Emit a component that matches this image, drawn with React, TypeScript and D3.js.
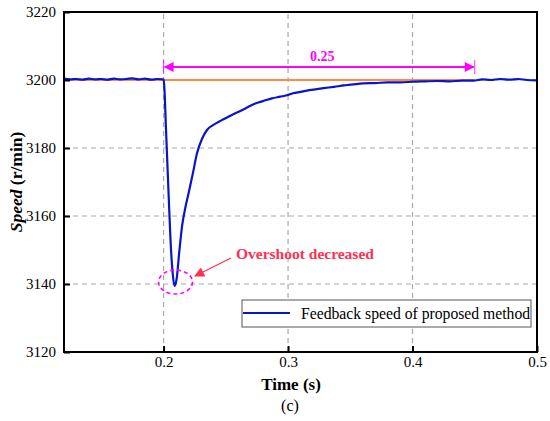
import * as d3 from 'd3'
import { useEffect, useRef } from 'react'

// Feedback speed of proposed method (time in s, speed in r/min)
const timeS = [
  0.12, 0.125, 0.13, 0.135, 0.14, 0.145, 0.15, 0.155, 0.16, 0.165, 0.17, 0.175, 0.18, 0.185, 0.19, 0.195, 0.2,
  0.2005, 0.202, 0.204, 0.206, 0.2075, 0.2088, 0.2105, 0.2125, 0.2148, 0.2175, 0.2201, 0.2235, 0.2268, 0.231,
  0.2349, 0.24, 0.2469, 0.252, 0.2576, 0.265, 0.2737, 0.28, 0.287, 0.2937, 0.299, 0.304, 0.31, 0.317, 0.3285,
  0.337, 0.345, 0.3606, 0.37, 0.38, 0.39, 0.4008, 0.41, 0.42, 0.43, 0.44, 0.449, 0.456, 0.463, 0.47, 0.478,
  0.485, 0.492, 0.5,
]
const speed = [
  3200.4, 3200.2, 3200.3, 3200.1, 3200.4, 3200.2, 3200.3, 3200.1, 3200.4, 3200.2, 3200.3, 3200.5, 3200.2, 3200.4, 3200.1, 3200.3, 3200.2,
  3198.5, 3185, 3166.7, 3150, 3142.5, 3139.4, 3141.5, 3149, 3156.9, 3162.5, 3166.7, 3172.5, 3178.4, 3182.8,
  3185.3, 3186.8, 3188.2, 3189.2, 3190.2, 3191.5, 3193.1, 3193.8, 3194.6, 3195.1, 3195.5, 3196.1, 3196.5, 3197.0, 3197.6,
  3198.0, 3198.4, 3199.0, 3199.1, 3199.3, 3199.3, 3199.5, 3199.6, 3199.7, 3199.6, 3199.8, 3199.8, 3200.2, 3200.0, 3200.3, 3200.1,
  3200.3, 3200.0, 3199.9,
]
const referenceSpeed = 3200
const referenceEnd = 0.45
const xTicks = [0.2, 0.3, 0.4, 0.5]
const yTicks = [3120, 3140, 3160, 3180, 3200, 3220]
const xGrid = [0.2, 0.3, 0.4]
const yGrid = [3140, 3160, 3180, 3200]
const settleStart = 0.2
const settleEnd = 0.45
const settleLabel = '0.25'
const overshootTime = 0.2088
const overshootSpeed = 3139.4

export default function App() {
  const svgRef = useRef<SVGSVGElement>(null)

  useEffect(() => {
    if (!svgRef.current) return
    const svg = d3.select(svgRef.current)
    svg.selectAll('*').remove()

    const width = 550
    const height = 421
    const margin = { top: 12, right: 13, bottom: 69, left: 64 }
    const font = '"Liberation Serif", "Times New Roman", serif'

    svg.attr('width', width).attr('height', height).style('font-family', font)

    const x = d3.scaleLinear().domain([0.12, 0.5]).range([margin.left, width - margin.right])
    const y = d3.scaleLinear().domain([3120, 3220]).range([height - margin.bottom, margin.top])

    const defs = svg.append('defs')
    const marker = (id: string, color: string, orient: string) =>
      defs
        .append('marker')
        .attr('id', id)
        .attr('viewBox', '0 0 10 10')
        .attr('refX', 9)
        .attr('refY', 5)
        .attr('markerWidth', 14)
        .attr('markerHeight', 10)
        .attr('markerUnits', 'userSpaceOnUse')
        .attr('orient', orient)
        .append('path')
        .attr('d', 'M0,0 L10,5 L0,10 Z')
        .attr('fill', color)
    marker('magArrowEnd', '#ff00ff', 'auto')
    marker('magArrowStart', '#ff00ff', 'auto-start-reverse')
    marker('redArrow', '#ff3050', 'auto')

    // Grid
    svg
      .append('g')
      .selectAll('line')
      .data(xGrid)
      .join('line')
      .attr('x1', d => x(d))
      .attr('x2', d => x(d))
      .attr('y1', y(3120))
      .attr('y2', y(3220))
      .attr('stroke', '#aaa')
      .attr('stroke-width', 1.2)
      .attr('stroke-dasharray', '5,4')
    svg
      .append('g')
      .selectAll('line')
      .data(yGrid)
      .join('line')
      .attr('x1', x(0.12))
      .attr('x2', x(0.5))
      .attr('y1', d => y(d))
      .attr('y2', d => y(d))
      .attr('stroke', '#aaa')
      .attr('stroke-width', 1.2)
      .attr('stroke-dasharray', '5,4')

    // Reference speed
    svg
      .append('line')
      .attr('x1', x(0.12))
      .attr('x2', x(referenceEnd))
      .attr('y1', y(referenceSpeed))
      .attr('y2', y(referenceSpeed))
      .attr('stroke', '#ff8c3c')
      .attr('stroke-width', 2)

    // Feedback speed
    const data = timeS.map((t, i) => ({ t, v: speed[i] }))
    const line = d3
      .line<{ t: number; v: number }>()
      .x(d => x(d.t))
      .y(d => y(d.v))
      .curve(d3.curveMonotoneX)
    svg
      .append('path')
      .datum(data)
      .attr('d', line)
      .attr('fill', 'none')
      .attr('stroke', '#0a14c8')
      .attr('stroke-width', 2.2)

    // Settling time arrow
    const arrowY = 67
    svg
      .append('line')
      .attr('x1', x(settleStart) + 1)
      .attr('x2', x(settleEnd) - 1)
      .attr('y1', arrowY)
      .attr('y2', arrowY)
      .attr('stroke', '#ff00ff')
      .attr('stroke-width', 2)
      .attr('marker-start', 'url(#magArrowStart)')
      .attr('marker-end', 'url(#magArrowEnd)')
    ;[settleStart, settleEnd].forEach(t => {
      svg
        .append('line')
        .attr('x1', x(t))
        .attr('x2', x(t))
        .attr('y1', arrowY - 7)
        .attr('y2', arrowY + 7)
        .attr('stroke', '#ff00ff')
        .attr('stroke-width', 0.8)
    })
    svg
      .append('text')
      .attr('x', x((settleStart + settleEnd) / 2) + 3)
      .attr('y', arrowY - 6)
      .attr('text-anchor', 'middle')
      .style('font-family', font)
      .style('font-weight', 'bold')
      .style('font-size', '14px')
      .attr('fill', '#ff00ff')
      .text(settleLabel)

    // Overshoot annotation
    svg
      .append('ellipse')
      .attr('cx', x(overshootTime) + 1)
      .attr('cy', y(overshootSpeed) - 4)
      .attr('rx', 17)
      .attr('ry', 12)
      .attr('fill', 'none')
      .attr('stroke', '#ff00ff')
      .attr('stroke-width', 1.6)
      .attr('stroke-dasharray', '4,3')
    svg
      .append('line')
      .attr('x1', 231)
      .attr('y1', 258)
      .attr('x2', 195)
      .attr('y2', 276)
      .attr('stroke', '#ff3050')
      .attr('stroke-width', 1.2)
      .attr('marker-end', 'url(#redArrow)')
    svg
      .append('text')
      .attr('x', 236)
      .attr('y', 259)
      .style('font-family', font)
      .style('font-weight', 'bold')
      .style('font-size', '15.5px')
      .attr('fill', '#ff3050')
      .text('Overshoot decreased')

    // Frame
    svg
      .append('rect')
      .attr('x', x(0.12))
      .attr('y', y(3220))
      .attr('width', x(0.5) - x(0.12))
      .attr('height', y(3120) - y(3220))
      .attr('fill', 'none')
      .attr('stroke', '#000')
      .attr('stroke-width', 2)

    // Axes
    const xAxis = svg
      .append('g')
      .attr('transform', `translate(0,${y(3120)})`)
      .call(
        d3
          .axisBottom(x)
          .tickValues(xTicks)
          .tickSizeInner(-6)
          .tickSizeOuter(0)
          .tickPadding(4)
          .tickFormat(d3.format('.1f'))
      )
    xAxis.attr('font-family', null).attr('font-size', null)
    xAxis.select('.domain').remove()
    xAxis.selectAll('line').attr('stroke-width', 2)
    xAxis
      .selectAll('text')
      .style('font-family', font)
      .style('font-size', '15px')
      .attr('fill', '#000')

    const yAxis = svg
      .append('g')
      .attr('transform', `translate(${x(0.12)},0)`)
      .call(d3.axisLeft(y).tickValues(yTicks).tickSizeInner(-6).tickSizeOuter(0).tickPadding(8).tickFormat(d3.format('d')))
    yAxis.attr('font-family', null).attr('font-size', null)
    yAxis.select('.domain').remove()
    yAxis.selectAll('line').attr('stroke-width', 2)
    yAxis
      .selectAll('text')
      .style('font-family', font)
      .style('font-size', '15px')
      .attr('fill', '#000')

    // Axis titles
    svg
      .append('text')
      .attr('x', 291)
      .attr('y', 390)
      .attr('text-anchor', 'middle')
      .style('font-family', font)
      .style('font-weight', 'bold')
      .style('font-size', '17px')
      .text('Time (s)')
    svg
      .append('text')
      .attr('x', 290)
      .attr('y', 411)
      .attr('text-anchor', 'middle')
      .style('font-family', font)
      .style('font-size', '16px')
      .text('(c)')
    const yTitle = svg
      .append('text')
      .attr('transform', `translate(22,${(y(3120) + y(3220)) / 2}) rotate(-90)`)
      .attr('text-anchor', 'middle')
      .style('font-family', font)
      .style('font-weight', 'bold')
      .style('font-size', '17.5px')
    yTitle.append('tspan').style('font-style', 'italic').text('Speed')
    yTitle.append('tspan').text(' (r/min)')

    // Legend
    const lg = svg.append('g')
    lg.append('rect')
      .attr('x', 242)
      .attr('y', 300)
      .attr('width', 289)
      .attr('height', 27)
      .attr('fill', '#fff')
      .attr('stroke', '#555')
      .attr('stroke-width', 1)
    lg.append('line')
      .attr('x1', 243)
      .attr('x2', 290)
      .attr('y1', 313)
      .attr('y2', 313)
      .attr('stroke', '#0a14c8')
      .attr('stroke-width', 2.2)
    lg.append('text')
      .attr('x', 301)
      .attr('y', 319)
      .style('font-family', font)
      .style('font-size', '15.7px')
      .attr('fill', '#000')
      .text('Feedback speed of proposed method')
  }, [])

  return (
    <div style={{ position: 'absolute', left: 0, top: 0 }}>
      <svg ref={svgRef} style={{ display: 'block', background: '#fff' }}></svg>
    </div>
  )
}
